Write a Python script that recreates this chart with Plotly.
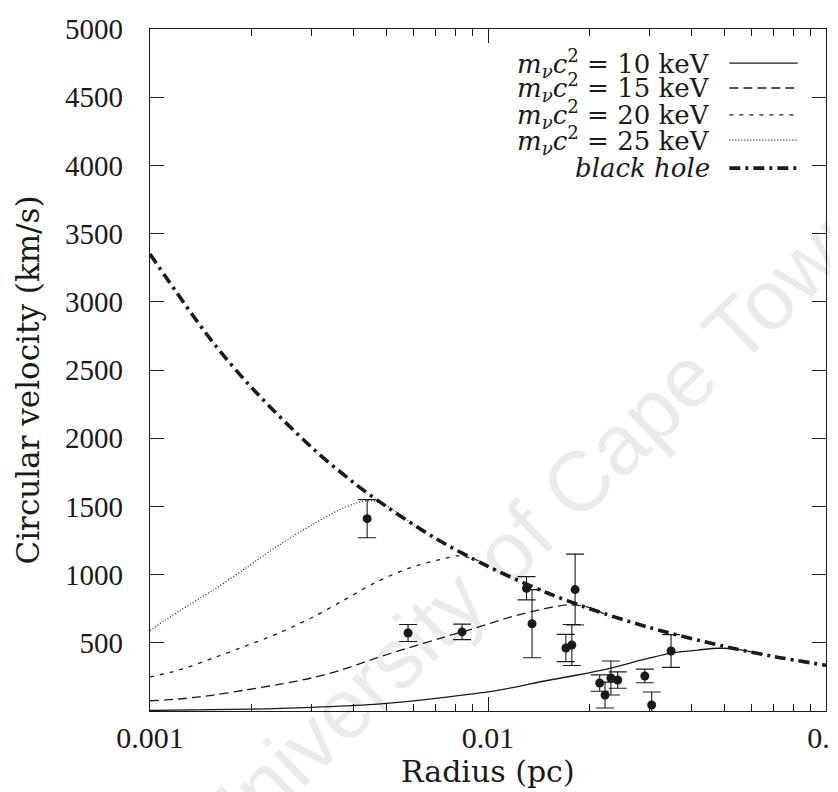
import plotly.graph_objects as go

# ---- data ----
bh_r = [0.001, 0.0015, 0.002, 0.003, 0.004, 0.005, 0.007, 0.01, 0.015, 0.02, 0.03, 0.05, 0.07, 0.1]
bh_v = [3350, 2735, 2370, 1935, 1675, 1500, 1265, 1060, 865, 750, 612, 474, 400, 335]

k25_r = [0.001, 0.00122, 0.00154, 0.00192, 0.00241, 0.00304, 0.00367, 0.0041, 0.0045, 0.005, 0.006]
k25_v = [590, 733, 887, 1048, 1217, 1370, 1480, 1525, 1542, 1505, 1368]

k20_r = [0.001, 0.00122, 0.00154, 0.00192, 0.00241, 0.00304, 0.00367, 0.00463, 0.0058, 0.00726, 0.0082, 0.0092, 0.011]
k20_v = [250, 301, 389, 477, 572, 690, 800, 940, 1045, 1112, 1138, 1110, 1010]

k15_r = [0.001, 0.00122, 0.00154, 0.00192, 0.00241, 0.00304, 0.00367, 0.00463, 0.0058, 0.00726, 0.0092, 0.0117, 0.0147, 0.0172, 0.0195, 0.022]
k15_v = [75, 88, 117, 154, 195, 245, 300, 385, 462, 535, 609, 690, 750, 778, 765, 714]

k10_r = [0.001, 0.002, 0.003, 0.0046, 0.0058, 0.0073, 0.01, 0.0117, 0.0147, 0.0184, 0.0231, 0.0297, 0.0348, 0.0418, 0.048, 0.055, 0.065]
k10_v = [4, 14, 26, 48, 70, 98, 140, 169, 220, 264, 315, 385, 425, 447, 460, 452, 415]

obs_r = [0.00439, 0.0058, 0.00838, 0.0130, 0.0135, 0.0170, 0.0177, 0.0181, 0.0214, 0.0222, 0.0231, 0.0242, 0.0291, 0.0305, 0.0348]
obs_v = [1410, 572, 580, 900, 640, 462, 484, 890, 205, 117, 242, 227, 257, 44, 440]
obs_e = [140, 62, 57, 85, 250, 100, 150, 260, 60, 95, 125, 60, 50, 95, 120]

x_tick_vals = [0.001, 0.01, 0.1]
x_tick_text = ["0.001", "0.01", "0.1"]
x_minor_vals = [0.002, 0.003, 0.004, 0.005, 0.006, 0.007, 0.008, 0.009,
                0.02, 0.03, 0.04, 0.05, 0.06, 0.07, 0.08, 0.09]
y_tick_vals = [500, 1000, 1500, 2000, 2500, 3000, 3500, 4000, 4500, 5000]
y_tick_text = ["500", "1000", "1500", "2000", "2500", "3000", "3500", "4000", "4500", "5000"]

legend_labels = [
    "<i>m</i><sub><i>ν</i></sub><i>c</i><sup>2</sup> = 10 keV",
    "<i>m</i><sub><i>ν</i></sub><i>c</i><sup>2</sup> = 15 keV",
    "<i>m</i><sub><i>ν</i></sub><i>c</i><sup>2</sup> = 20 keV",
    "<i>m</i><sub><i>ν</i></sub><i>c</i><sup>2</sup> = 25 keV",
    "<i>black hole</i>",
]

TICK_FONT = "Liberation Serif, DejaVu Serif, serif"
TITLE_FONT = "DejaVu Serif, Liberation Serif, serif"
INK = "#1a1a1a"

styles = [
    dict(width=1.3, dash="solid"),
    dict(width=1.3, dash="9px,5px"),
    dict(width=1.3, dash="4px,6px"),
    dict(width=1.2, dash="1px,2px"),
    dict(width=3.6, dash="11px,5px,3px,5px"),
]

fig = go.Figure()
series = [(k10_r, k10_v), (k15_r, k15_v), (k20_r, k20_v), (k25_r, k25_v), (bh_r, bh_v)]
for (r, v), st in zip(series, styles):
    fig.add_trace(go.Scatter(x=r, y=v, mode="lines",
                             line=dict(color=INK, shape="spline", smoothing=0.9, **st),
                             showlegend=False, hoverinfo="skip"))

fig.add_trace(go.Scatter(
    x=obs_r, y=obs_v, mode="markers",
    marker=dict(symbol="circle", size=9, color=INK),
    error_y=dict(type="data", array=obs_e, width=9, thickness=1.1, color=INK),
    showlegend=False,
))

# custom legend (text right-aligned, sample line on the right)
row_y = [0.950, 0.9135, 0.874, 0.837, 0.796]
annotations = []
shapes = []
for lab, yy, st in zip(legend_labels, row_y, styles):
    annotations.append(dict(xref="paper", yref="paper", x=0.831, y=yy, text=lab, showarrow=False,
                            xanchor="right", yanchor="middle",
                            font=dict(family=TITLE_FONT, size=26, color=INK)))
    shapes.append(dict(type="line", xref="paper", yref="paper", x0=0.857, x1=0.958, y0=yy, y1=yy,
                       line=dict(color=INK, width=st["width"], dash=st["dash"])))

# axis titles
annotations.append(dict(xref="paper", yref="paper", x=0.5, y=-0.088, text="Radius (pc)", showarrow=False,
                        xanchor="center", yanchor="middle", font=dict(family=TITLE_FONT, size=30, color=INK)))
annotations.append(dict(xref="paper", yref="paper", x=-0.18, y=0.485, text="Circular velocity (km/s)",
                        showarrow=False, textangle=-90, xanchor="center", yanchor="middle",
                        font=dict(family=TITLE_FONT, size=31, color=INK)))
# scan watermark
annotations.append(dict(xref="paper", yref="paper", x=0.565, y=0.27, text="University of Cape Town",
                        showarrow=False, textangle=-44, xanchor="center", yanchor="middle",
                        font=dict(family="Liberation Sans", size=85, color="rgba(0,0,0,0.08)")))

fig.update_layout(
    width=838, height=792,
    margin=dict(l=142, r=20, t=21, b=89),
    paper_bgcolor="white", plot_bgcolor="white",
    font=dict(family=TICK_FONT, size=29, color=INK),
    annotations=annotations, shapes=shapes,
    showlegend=False,
)
fig.update_xaxes(
    type="log", range=[-3, -1], automargin=False,
    showline=True, linecolor=INK, linewidth=1.4, mirror="ticks",
    showgrid=False, zeroline=False,
    tickmode="array", tickvals=x_tick_vals, ticktext=x_tick_text,
    tickfont=dict(family=TICK_FONT, size=30, color=INK),
    ticks="inside", ticklen=14, tickwidth=1.3, tickcolor=INK,
    ticklabelstandoff=0,
    minor=dict(ticks="inside", ticklen=7, tickwidth=1.2, tickcolor=INK, tickmode="array",
               tickvals=x_minor_vals, showgrid=False),
)
fig.update_yaxes(
    range=[0, 5000], automargin=False,
    showline=True, linecolor=INK, linewidth=1.4, mirror="ticks",
    showgrid=False, zeroline=False,
    tickmode="array", tickvals=y_tick_vals, ticktext=y_tick_text,
    tickfont=dict(family=TICK_FONT, size=29, color=INK),
    ticks="inside", ticklen=14, tickwidth=1.3, tickcolor=INK,
    ticklabelstandoff=20,
)

fig.write_html("out.html")
